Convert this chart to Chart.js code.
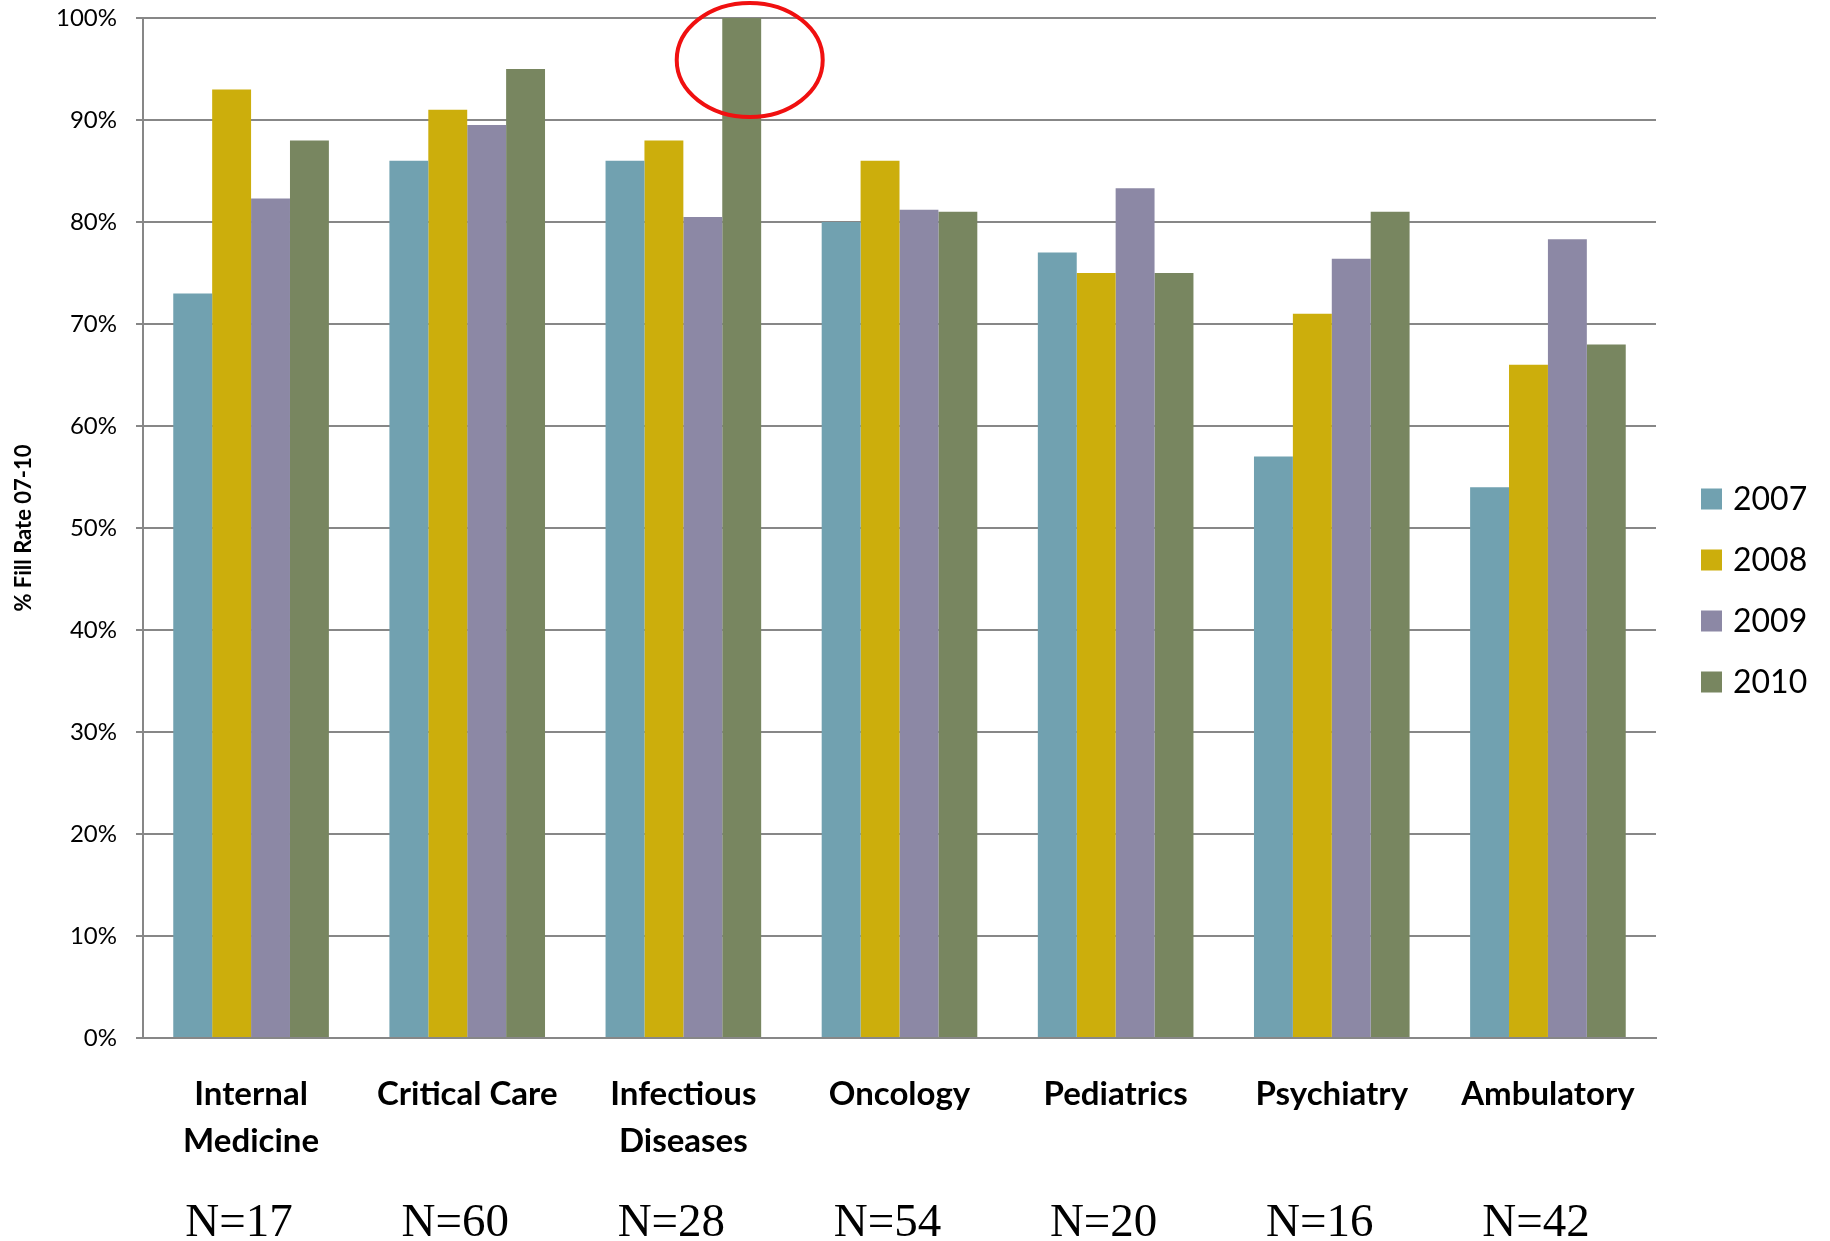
<!DOCTYPE html>
<html>
<head>
<meta charset="utf-8">
<script src="https://cdn.jsdelivr.net/npm/chart.js@4/dist/chart.umd.min.js"></script>
<style>
  html, body { margin: 0; padding: 0; background: #fff; }
  #wrap { width: 1830px; height: 1241px; }
</style>
</head>
<body>
<div id="wrap"><canvas id="bar_chart" width="1830" height="1241"></canvas></div>
<script>
// Categories and sample sizes
const categories = [["Internal", "Medicine"], "Critical Care", ["Infectious", "Diseases"], "Oncology", "Pediatrics", "Psychiatry", "Ambulatory"];
const sampleSizes = ["N=17", "N=60", "N=28", "N=54", "N=20", "N=16", "N=42"];

// Fill rate (%) per year
const years = ["2007", "2008", "2009", "2010"];
const fill2007 = [73, 86, 86, 80, 77, 57, 54];
const fill2008 = [93, 91, 88, 86, 75, 71, 66];
const fill2009 = [82.3, 89.5, 80.5, 81.2, 83.3, 76.4, 78.3];
const fill2010 = [88, 95, 100, 81, 75, 81, 68];

const yTicks = [0, 10, 20, 30, 40, 50, 60, 70, 80, 90, 100];

const colors = ['#71A1B0', '#CCAE0C', '#8C88A5', '#788660'];
const series = [fill2007, fill2008, fill2009, fill2010];

const datasets = [];
for (let i = 0; i < years.length; i++) {
  datasets.push({
    label: years[i],
    data: series[i],
    backgroundColor: colors[i],
    borderWidth: 0,
    categoryPercentage: 0.72,
    barPercentage: 1.0,
  });
}

const gridColor = '#878787';

// N= labels under each category, legend on the right, red circle on the 100% bar
const extras = {
  id: 'extras',
  afterDatasetsDraw(chart) {
    const ctx = chart.ctx;
    const bar = chart.getDatasetMeta(3).data[2];
    ctx.save();
    ctx.strokeStyle = '#F01010';
    ctx.lineWidth = 4;
    ctx.beginPath();
    ctx.ellipse(bar.x + 8, bar.y + 42, 73, 57, 0, 0, Math.PI * 2);
    ctx.stroke();
    ctx.restore();
  },
  afterDraw(chart) {
    const ctx = chart.ctx;
    const xs = chart.scales.x;
    ctx.save();
    ctx.fillStyle = '#000';
    ctx.font = '47px "Liberation Serif"';
    ctx.textAlign = 'center';
    ctx.textBaseline = 'alphabetic';
    sampleSizes.forEach((n, i) => {
      ctx.fillText(n, xs.getPixelForValue(i) - 12, 1236);
    });

    // legend
    const x0 = chart.chartArea.right + 45;
    ctx.font = '32px Lato';
    ctx.textAlign = 'left';
    ctx.textBaseline = 'middle';
    chart.data.datasets.forEach((ds, i) => {
      const yc = 499 + i * 61;
      ctx.fillStyle = ds.backgroundColor;
      ctx.fillRect(x0, yc - 10.5, 21, 21);
      ctx.fillStyle = '#000';
      ctx.fillText(ds.label, x0 + 32, yc + 1);
    });
    ctx.restore();
  }
};

const ctx = document.getElementById('bar_chart').getContext('2d');
new Chart(ctx, {
  type: 'bar',
  data: { labels: categories, datasets: datasets },
  plugins: [extras],
  options: {
    responsive: false,
    animation: false,
    devicePixelRatio: 1,
    layout: { padding: { top: 18, right: 174, left: 0, bottom: 0 } },
    plugins: {
      legend: { display: false },
      tooltip: { enabled: false },
    },
    scales: {
      x: {
        grid: { display: false, drawTicks: false },
        border: { display: true, color: gridColor, width: 2 },
        ticks: {
          autoSkip: false,
          maxRotation: 0,
          padding: 33,
          color: '#000',
          font: { family: 'Lato', size: 33, weight: 'bold', lineHeight: 1.42 },
        },
        afterFit(scale) { scale.height = 203; },
      },
      y: {
        min: 0,
        max: 100,
        afterBuildTicks(scale) { scale.ticks = yTicks.map(v => ({ value: v })); },
        grid: { color: gridColor, lineWidth: 2, tickLength: 7 },
        border: { display: true, color: gridColor, width: 2 },
        ticks: {
          padding: 19,
          color: '#000',
          font: { family: 'Lato', size: 24 },
          callback: v => v + '%',
        },
        title: {
          display: true,
          text: '% Fill Rate 07-10',
          color: '#000',
          padding: { top: 11, bottom: 0 },
          font: { family: 'Lato', size: 22, weight: 'bold' },
        },
        afterFit(scale) {
          scale.width = 143;
          scale.paddingTop = 0;
          scale.paddingBottom = 0;
        },
      },
    },
  },
});
</script>
</body>
</html>
